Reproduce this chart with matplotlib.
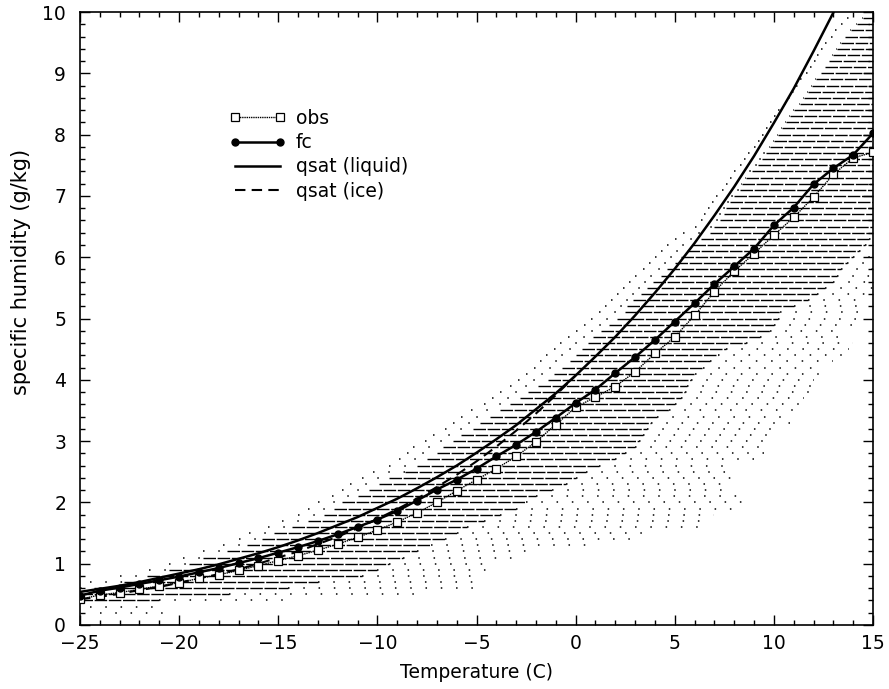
import numpy as np
import matplotlib
matplotlib.use("Agg")
import matplotlib.pyplot as plt
from matplotlib.ticker import MultipleLocator

plt.rcParams['font.family'] = ['DejaVu Sans']

# ---- curves (values read at integer temperatures) ----
temp = list(range(-25, 16))
obs = [0.42, 0.49, 0.53, 0.58, 0.64, 0.69, 0.76, 0.82, 0.89, 0.97,
       1.05, 1.13, 1.22, 1.32, 1.43, 1.55, 1.68, 1.83, 2.00, 2.19,
       2.37, 2.55, 2.75, 2.99, 3.27, 3.55, 3.72, 3.89, 4.13, 4.43,
       4.70, 5.05, 5.44, 5.77, 6.06, 6.36, 6.65, 6.98, 7.35, 7.62, 7.71]
fc = [0.48, 0.56, 0.61, 0.67, 0.73, 0.79, 0.86, 0.93, 1.01, 1.09,
      1.18, 1.27, 1.37, 1.48, 1.60, 1.72, 1.86, 2.03, 2.21, 2.37,
      2.55, 2.75, 2.94, 3.15, 3.38, 3.62, 3.84, 4.11, 4.37, 4.65,
      4.95, 5.25, 5.56, 5.85, 6.14, 6.52, 6.81, 7.19, 7.45, 7.67, 8.02]
qsat_liq = [0.54, 0.59, 0.64, 0.70, 0.77, 0.84, 0.91, 0.99, 1.08, 1.17,
            1.27, 1.38, 1.50, 1.63, 1.76, 1.91, 2.06, 2.23, 2.41, 2.60,
            2.81, 3.03, 3.26, 3.52, 3.78, 4.07, 4.38, 4.70, 5.05, 5.42,
            5.81, 6.23, 6.68, 7.15, 7.65, 8.19, 8.75, 9.36, 9.99, 10.67, 11.38]
temp_ice = list(range(-25, 1))
qsat_ice = [0.42, 0.46, 0.51, 0.57, 0.62, 0.69, 0.76, 0.83, 0.91, 1.00,
            1.10, 1.20, 1.32, 1.44, 1.58, 1.73, 1.89, 2.06, 2.25, 2.45,
            2.67, 2.91, 3.17, 3.45, 3.75, 4.07]

# ---- point cloud: per humidity level, extent of the dotted rows (deg C) ----
levels = [0.2, 0.3, 0.4, 0.5, 0.6, 0.7, 0.8, 0.9, 1.0, 1.1,
          1.2, 1.3, 1.4, 1.5, 1.6, 1.7, 1.8, 1.9, 2.0, 2.1,
          2.2, 2.3, 2.4, 2.5, 2.6, 2.7, 2.8, 2.9, 3.0, 3.1,
          3.2, 3.3, 3.4, 3.5, 3.6, 3.7, 3.8, 3.9, 4.0, 4.1,
          4.2, 4.3, 4.4, 4.5, 4.6, 4.7, 4.8, 4.9, 5.0, 5.1,
          5.2, 5.3, 5.4, 5.5, 5.6, 5.7, 5.8, 5.9, 6.0, 6.1,
          6.2, 6.3, 6.4, 6.5, 6.6, 6.7, 6.8, 6.9, 7.0, 7.1,
          7.2, 7.3, 7.4, 7.5, 7.6, 7.7, 7.8, 7.9, 8.0, 8.1,
          8.2, 8.3, 8.4, 8.5, 8.6, 8.7, 8.8, 8.9, 9.0, 9.1,
          9.2, 9.3, 9.4, 9.5, 9.6, 9.7, 9.8, 9.9]
sparse_lo = [-24.0, -24.5, -25.0, -25.0, -25.0, -24.5, -23.0, -21.5, -20.5, -19.8,
             -18.8, -17.8, -17.0, -16.5, -15.5, -14.8, -14.0, -13.5, -13.0, -12.3,
             -11.8, -11.4, -10.8, -10.2, -9.4, -8.9, -8.5, -8.2, -7.6, -7.2,
             -6.6, -6.2, -5.8, -5.3, -4.6, -4.2, -3.8, -3.3, -2.9, -2.5,
             -2.1, -1.8, -1.5, -1.1, -0.8, -0.4, 0.0, 0.4, 0.8, 1.2,
             1.5, 1.8, 2.1, 2.4, 2.7, 3.0, 3.4, 3.7, 4.0, 4.3,
             4.6, 5.0, 5.4, 6.0, 6.3, 6.5, 6.7, 6.9, 7.1, 7.4,
             7.6, 7.8, 8.0, 8.3, 8.5, 8.7, 9.0, 9.2, 9.4, 9.6,
             9.8, 10.0, 10.2, 10.5, 10.7, 10.9, 11.1, 11.3, 11.6, 11.8,
             12.0, 12.2, 12.4, 12.6, 12.9, 13.1, 13.4, 13.7]
dense_lo = [np.nan, np.nan, -25.0, -25.0, -24.3, -22.8, -21.6, -20.5, -19.5, -18.8,
            -17.6, -16.6, -15.8, -15.2, -14.3, -13.5, -12.7, -12.2, -11.8, -11.0,
            -10.4, -9.9, -9.4, -8.6, -8.0, -7.5, -7.0, -6.7, -6.2, -5.8,
            -5.2, -4.8, -4.3, -3.8, -3.3, -2.8, -2.4, -1.9, -1.4, -1.1,
            -0.7, -0.3, 0.0, 0.3, 0.6, 0.9, 1.3, 1.7, 2.1, 2.5,
            2.6, 2.9, 3.3, 3.6, 3.9, 4.3, 4.6, 5.0, 5.3, 5.6,
            5.9, 6.3, 6.8, 7.0, 7.3, 7.5, 7.6, 7.8, 8.0, 8.3,
            8.4, 8.6, 8.9, 9.2, 9.4, 9.6, 9.8, 10.0, 10.2, 10.4,
            10.6, 10.8, 11.0, 11.3, 11.5, 11.7, 11.9, 12.1, 12.4, 12.6,
            12.8, 13.0, 13.2, 13.4, 13.6, 13.9, 14.2, 14.5]
dense_hi = [np.nan, np.nan, -21.0, -17.5, -14.5, -13.0, -10.8, -10.0, -9.4, -8.7,
            -8.0, -7.3, -6.6, -6.0, -5.5, -4.6, -3.8, -3.0, -2.5, -2.0,
            -1.2, -0.5, 0.0, 0.5, 1.2, 2.0, 2.5, 3.0, 3.2, 3.4,
            3.6, 3.8, 4.1, 4.7, 5.0, 5.3, 5.5, 5.6, 5.8, 6.0,
            6.4, 6.8, 7.2, 7.6, 8.6, 9.3, 9.8, 10.0, 10.2, 10.3,
            11.0, 11.7, 12.2, 12.6, 13.0, 13.2, 13.4, 13.7, 14.0, 14.3,
            14.6, 14.8, 15.0, 15.0, 15.0, 15.0, 15.0, 15.0, 15.0, 15.0,
            15.0, 15.0, 15.0, 15.0, 15.0, 15.0, 15.0, 15.0, 15.0, 15.0,
            15.0, 15.0, 15.0, 15.0, 15.0, 15.0, 15.0, 15.0, 15.0, 15.0,
            15.0, 15.0, 15.0, 15.0, 15.0, 15.0, 15.0, 15.0]
sparse_hi = [-20.5, -21.0, -14.7, -8.0, -5.0, -4.9, -4.7, -4.5, -4.3, -3.0,
             -2.2, 1.0, 3.4, 3.8, 6.4, 6.8, 7.0, 8.0, 8.6, 8.2,
             8.0, 7.9, 8.0, 8.0, 8.1, 9.0, 9.5, 9.9, 10.0, 10.2,
             10.5, 10.8, 11.0, 11.2, 11.5, 11.5, 11.8, 12.0, 12.0, 12.3,
             12.5, 13.0, 13.5, 13.8, 14.0, 13.5, 13.0, 14.0, 14.5, 14.5,
             14.5, 14.5, 14.8, 15.0, 15.0, 15.0, 15.0, 15.0, 15.0, 15.0,
             15.0, 15.0, 15.0, 15.0, 15.0, 15.0, 15.0, 15.0, 15.0, 15.0,
             15.0, 15.0, 15.0, 15.0, 15.0, 15.0, 15.0, 15.0, 15.0, 15.0,
             15.0, 15.0, 15.0, 15.0, 15.0, 15.0, 15.0, 15.0, 15.0, 15.0,
             15.0, 15.0, 15.0, 15.0, 15.0, 15.0, 15.0, 15.0]

FS = 13.5

fig = plt.figure(figsize=(8.89, 6.89), dpi=100)
ax = fig.add_axes([80/889, 1-625/689, (873-80)/889, (625-12)/689])

lv = np.array(levels)
slo = np.array(sparse_lo); dlo = np.array(dense_lo)
dhi = np.array(dense_hi); shi = np.array(sparse_hi)
has = ~np.isnan(dlo)

sparse_style = (0, (1, 9))
# sparse leading dots
ax.hlines(lv[has], slo[has], dlo[has], colors='black', lw=1.1,
          linestyles=sparse_style, zorder=1)
ax.hlines(lv[~has], slo[~has], shi[~has], colors='black', lw=1.1,
          linestyles=sparse_style, zorder=1)
# dense rows
ax.hlines(lv[has], dlo[has], dhi[has], colors='black', lw=1.0,
          linestyles=(0, (9, 1.2)), zorder=1)
# sparse trailing dots
m2 = has & (shi > dhi)
ax.hlines(lv[m2], dhi[m2], shi[m2], colors='black', lw=1.1,
          linestyles=sparse_style, zorder=1)

ax.plot(temp, obs, color='black', lw=1.0, ls=(0, (1, 0.6)), marker='s',
        ms=6, mfc='white', mec='black', mew=0.9, label='obs', zorder=5)
ax.plot(temp, fc, color='black', lw=1.8, marker='o', ms=5,
        mfc='black', mec='black', label='fc', zorder=6)
ax.plot(temp, qsat_liq, color='black', lw=1.8, label='qsat (liquid)', zorder=4)
ax.plot(temp_ice, qsat_ice, color='black', lw=1.5, ls=(0, (5, 3)),
        label='qsat (ice)', zorder=4)

ax.set_xlim(-25, 15)
ax.set_ylim(0, 10)
ax.xaxis.set_major_locator(MultipleLocator(5))
ax.xaxis.set_minor_locator(MultipleLocator(1))
ax.yaxis.set_major_locator(MultipleLocator(1))
ax.yaxis.set_minor_locator(MultipleLocator(0.2))
ax.tick_params(which='both', direction='in', top=True, right=True,
               labelsize=FS, width=1.0)
ax.tick_params(which='major', length=7)
ax.tick_params(which='minor', length=3.5)
ax.tick_params(axis='x', which='major', pad=6.5)
ax.tick_params(axis='y', which='major', pad=10)
for s in ax.spines.values():
    s.set_linewidth(1.2)

ax.set_xlabel('Temperature (C)', fontsize=FS)
ax.set_ylabel('specific humidity (g/kg)', fontsize=15)
ax.xaxis.set_label_coords(0.5, -0.062)
ax.yaxis.set_label_coords(-0.062, 0.576)

leg = ax.legend(loc='upper left', bbox_to_anchor=((229-80)/793, (625-109)/613),
                frameon=False, fontsize=FS, numpoints=2, handlelength=3.0,
                handletextpad=0.55, labelspacing=0.28, borderaxespad=0, borderpad=0)

fig.savefig('out.png', dpi=100)
